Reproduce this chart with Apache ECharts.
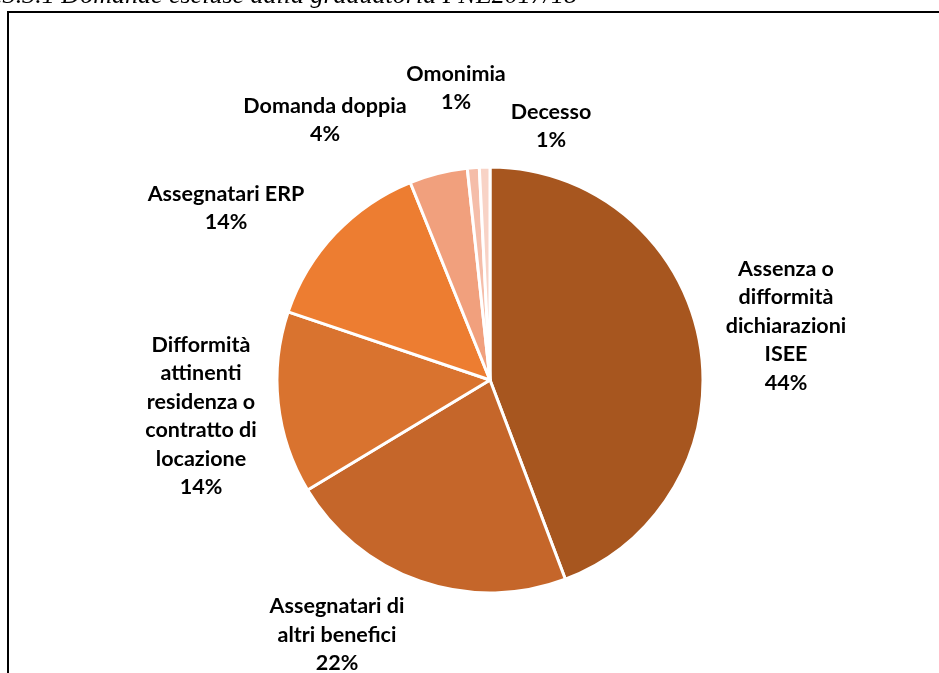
<!DOCTYPE html>
<html>
<head>
<meta charset="utf-8">
<style>
  html, body { margin: 0; padding: 0; background: #ffffff; }
  #chart { width: 939px; height: 673px; }
</style>
<script src="https://cdn.jsdelivr.net/npm/echarts@6/dist/echarts.min.js"></script>
</head>
<body>
<div id="chart"></div>
<script>
// Reasons for exclusion from the FNE 2017/18 ranking (share of applications)
const categories = [
  'Assenza o\ndifformità\ndichiarazioni\nISEE',
  'Assegnatari di\naltri benefici',
  'Difformità\nattinenti\nresidenza o\ncontratto di\nlocazione',
  'Assegnatari ERP',
  'Domanda doppia',
  'Omonimia',
  'Decesso'
];
const shares = [44.2, 22.1, 13.8, 13.7, 4.4, 0.9, 0.8];
const sliceColors = ['#A7561F', '#C5662A', '#D9732F', '#ED7D31', '#F1A07D', '#F5BDA9', '#F8D3C6'];

const titleText = 'Figura 3.3.3.1 Domande escluse dalla graduatoria FNE2017/18';

// Pie geometry (px)
const pieCenter = [490, 380];
const pieRadius = 213;

// Label centres, as offsets from the pie centre (px)
const labelOffsets = [
  [296, -54],
  [-153, 255],
  [-289, 36],
  [-264, -172],
  [-165, -260],
  [-34, -292],
  [61, -254]
];

const chart = echarts.init(document.getElementById('chart'), null, { renderer: 'canvas' });

chart.setOption({
  backgroundColor: '#ffffff',
  animation: false,
  graphic: [
    {
      type: 'text',
      x: 577,
      y: 9,
      style: {
        text: titleText,
        font: 'italic 26px "Liberation Serif"',
        fill: '#000000',
        align: 'right',
        verticalAlign: 'bottom'
      }
    },
    {
      type: 'rect',
      shape: { x: 8, y: 12, width: 1200, height: 1200 },
      style: { fill: 'none', stroke: '#000000', lineWidth: 2 }
    }
  ],
  series: [{
    type: 'pie',
    center: pieCenter,
    radius: pieRadius,
    startAngle: 90,
    clockwise: true,
    percentPrecision: 0,
    avoidLabelOverlap: false,
    itemStyle: { borderColor: '#ffffff', borderWidth: 3 },
    labelLine: { show: false },
    label: {
      show: true,
      position: 'outside',
      formatter: '{b}\n{d}%',
      fontFamily: 'Lato',
      fontWeight: 'bold',
      fontSize: 21.5,
      lineHeight: 28.5,
      color: '#000000',
      align: 'center'
    },
    labelLayout: function (params) {
      const off = labelOffsets[params.dataIndex];
      return {
        x: pieCenter[0] + off[0],
        y: pieCenter[1] + off[1],
        align: 'center',
        verticalAlign: 'middle'
      };
    },
    emphasis: { disabled: true },
    data: categories.map(function (name, i) {
      return { name: name, value: shares[i], itemStyle: { color: sliceColors[i] } };
    })
  }]
});
</script>
</body>
</html>
